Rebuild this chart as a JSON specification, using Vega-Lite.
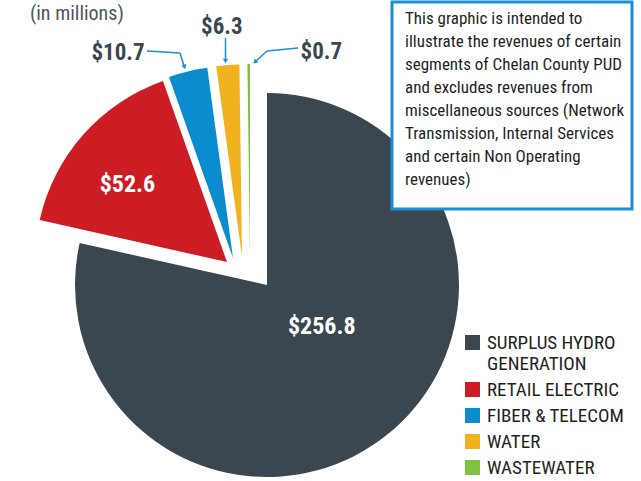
{
  "$schema": "https://vega.github.io/schema/vega-lite/v6.json",
  "width": 641,
  "height": 481,
  "padding": 0,
  "autosize": {"type": "none"},
  "background": "white",
  "config": {"view": {"stroke": null}},
  "title": {"text": "(in millions)", "anchor": "start", "frame": "group", "orient": "top", "offset": -20, "dx": 30, "dy": 20, "baseline": "alphabetic", "font": "Roboto Condensed, DejaVu Sans Condensed", "fontSize": 20, "fontWeight": "normal", "color": "#4d565c"},
  "layer": [
    {
      "data": {"values": [
        {"segment": "SURPLUS HYDRO GENERATION", "value": 256.8},
        {"segment": "RETAIL ELECTRIC", "value": 52.6},
        {"segment": "FIBER & TELECOM", "value": 10.7},
        {"segment": "WATER", "value": 6.3},
        {"segment": "WASTEWATER", "value": 0.7}
      ]},
      "encoding": {
        "theta": {"field": "value", "type": "quantitative", "stack": true},
        "order": {"field": "value", "type": "quantitative", "sort": "descending"},
        "color": {"field": "segment", "type": "nominal",
          "scale": {"domain": ["SURPLUS HYDRO GENERATION", "RETAIL ELECTRIC", "FIBER & TELECOM", "WATER", "WASTEWATER"], "range": ["#3b4750", "#cc1d24", "#0b8ccf", "#f0b21f", "#7fc241"]},
          "legend": {"orient": "none", "legendX": 463, "legendY": 333, "title": null, "symbolType": "square", "symbolSize": 225, "symbolStrokeWidth": 0, "symbolOpacity": 1, "labelFont": "Roboto Condensed, DejaVu Sans Condensed", "labelFontSize": 19, "labelLineHeight": 20, "labelColor": "#231f20", "labelOffset": 5, "rowPadding": 6, "labelLimit": 300,
            "labelExpr": "datum.label == 'SURPLUS HYDRO GENERATION' ? ['SURPLUS HYDRO', 'GENERATION'] : datum.label"}}
      },
      "layer": [
        {"mark": {"type": "arc", "x": 267, "y": 285, "radius": 192},
         "encoding": {"opacity": {"condition": {"test": "datum.segment === 'SURPLUS HYDRO GENERATION'", "value": 1}, "value": 0}}},
        {"mark": {"type": "arc", "x": 227, "y": 262, "radius": 192},
         "encoding": {"opacity": {"condition": {"test": "datum.segment === 'RETAIL ELECTRIC'", "value": 1}, "value": 0}}},
        {"mark": {"type": "arc", "x": 233, "y": 258, "radius": 192},
         "encoding": {"opacity": {"condition": {"test": "datum.segment === 'FIBER & TELECOM'", "value": 1}, "value": 0}}},
        {"mark": {"type": "arc", "x": 242, "y": 256.5, "radius": 192},
         "encoding": {"opacity": {"condition": {"test": "datum.segment === 'WATER'", "value": 1}, "value": 0}}},
        {"mark": {"type": "arc", "x": 250, "y": 256, "radius": 192},
         "encoding": {"opacity": {"condition": {"test": "datum.segment === 'WASTEWATER'", "value": 1}, "value": 0}}},
        {"mark": {"type": "text", "x": 267, "y": 285, "radius": 70, "dx": 11, "dy": -13, "font": "Roboto Condensed, DejaVu Sans Condensed", "fontSize": 24, "fontWeight": "bold", "align": "center", "baseline": "middle"},
         "encoding": {"color": {"value": "white"}, "detail": {"field": "segment"}, "text": {"field": "value", "type": "quantitative", "format": "$.1f"},
           "opacity": {"condition": {"test": "datum.segment === 'SURPLUS HYDRO GENERATION'", "value": 1}, "value": 0}}},
        {"mark": {"type": "text", "x": 227, "y": 262, "radius": 125, "dx": -6, "dy": 6, "font": "Roboto Condensed, DejaVu Sans Condensed", "fontSize": 24, "fontWeight": "bold", "align": "center", "baseline": "middle"},
         "encoding": {"color": {"value": "white"}, "detail": {"field": "segment"}, "text": {"field": "value", "type": "quantitative", "format": "$.1f"},
           "opacity": {"condition": {"test": "datum.segment === 'RETAIL ELECTRIC'", "value": 1}, "value": 0}}},
        {"mark": {"type": "text", "x": 233, "y": 258, "radius": 210, "dx": -39, "dy": -1, "font": "Roboto Condensed, DejaVu Sans Condensed", "fontSize": 23, "fontWeight": "bold", "align": "right", "baseline": "middle"},
         "encoding": {"color": {"value": "#3b4750"}, "detail": {"field": "segment"}, "text": {"field": "value", "type": "quantitative", "format": "$.1f"},
           "opacity": {"condition": {"test": "datum.segment === 'FIBER & TELECOM'", "value": 1}, "value": 0}}},
        {"mark": {"type": "text", "x": 242, "y": 256.5, "radius": 232, "dx": -3, "dy": 2, "font": "Roboto Condensed, DejaVu Sans Condensed", "fontSize": 23, "fontWeight": "bold", "align": "center", "baseline": "middle"},
         "encoding": {"color": {"value": "#3b4750"}, "detail": {"field": "segment"}, "text": {"field": "value", "type": "quantitative", "format": "$.1f"},
           "opacity": {"condition": {"test": "datum.segment === 'WATER'", "value": 1}, "value": 0}}},
        {"mark": {"type": "text", "x": 250, "y": 256, "radius": 206, "dx": 52, "dy": 2, "font": "Roboto Condensed, DejaVu Sans Condensed", "fontSize": 23, "fontWeight": "bold", "align": "left", "baseline": "middle"},
         "encoding": {"color": {"value": "#3b4750"}, "detail": {"field": "segment"}, "text": {"field": "value", "type": "quantitative", "format": "$.1f"},
           "opacity": {"condition": {"test": "datum.segment === 'WASTEWATER'", "value": 1}, "value": 0}}}
      ]
    },
    {"data": {"values": [{"c": "leader"}]}, "mark": {"type": "rule", "stroke": "#1a8fd6", "strokeWidth": 1.5}, "encoding": {"x": {"value": 147}, "y": {"value": 51}, "x2": {"value": 180}, "y2": {"value": 53}}},
    {"data": {"values": [{"c": "leader"}]}, "mark": {"type": "rule", "stroke": "#1a8fd6", "strokeWidth": 1.5}, "encoding": {"x": {"value": 180}, "y": {"value": 53}, "x2": {"value": 184}, "y2": {"value": 66}}},
    {"data": {"values": [{"c": "leader"}]}, "mark": {"type": "rule", "stroke": "#1a8fd6", "strokeWidth": 1.5}, "encoding": {"x": {"value": 225.5}, "y": {"value": 38}, "x2": {"value": 225.5}, "y2": {"value": 60}}},
    {"data": {"values": [{"c": "leader"}]}, "mark": {"type": "rule", "stroke": "#1a8fd6", "strokeWidth": 1.5}, "encoding": {"x": {"value": 298}, "y": {"value": 48}, "x2": {"value": 267}, "y2": {"value": 51}}},
    {"data": {"values": [{"c": "leader"}]}, "mark": {"type": "rule", "stroke": "#1a8fd6", "strokeWidth": 1.5}, "encoding": {"x": {"value": 267}, "y": {"value": 51}, "x2": {"value": 256}, "y2": {"value": 61}}},
    {"data": {"values": [{"c": "leader"}]}, "mark": {"type": "point", "shape": "triangle-down", "size": 28, "filled": true, "color": "#1a8fd6", "opacity": 1, "angle": -15}, "encoding": {"x": {"value": 184.5}, "y": {"value": 67}}},
    {"data": {"values": [{"c": "leader"}]}, "mark": {"type": "point", "shape": "triangle-down", "size": 28, "filled": true, "color": "#1a8fd6", "opacity": 1}, "encoding": {"x": {"value": 225.5}, "y": {"value": 61}}},
    {"data": {"values": [{"c": "leader"}]}, "mark": {"type": "point", "shape": "triangle-down", "size": 28, "filled": true, "color": "#1a8fd6", "opacity": 1, "angle": 45}, "encoding": {"x": {"value": 255}, "y": {"value": 62}}},
    {
      "data": {"values": [{"note": "box"}]},
      "mark": {"type": "rect", "fill": "white", "stroke": "#1a8fd6", "strokeWidth": 3},
      "encoding": {"x": {"value": 392}, "y": {"value": 2}, "x2": {"value": 632}, "y2": {"value": 209}}
    },
    {
      "data": {"values": [{"note": "box"}]},
      "mark": {"type": "text", "align": "left", "baseline": "top", "font": "Roboto Condensed, DejaVu Sans Condensed", "fontSize": 17, "lineHeight": 23, "color": "#1f1f1f",
        "text": ["This graphic is intended to", "illustrate the revenues of certain", "segments of Chelan County PUD", "and excludes revenues from", "miscellaneous sources (Network", "Transmission, Internal Services", "and certain Non Operating", "revenues)"]},
      "encoding": {"x": {"value": 405}, "y": {"value": 11}}
    }
  ]
}
